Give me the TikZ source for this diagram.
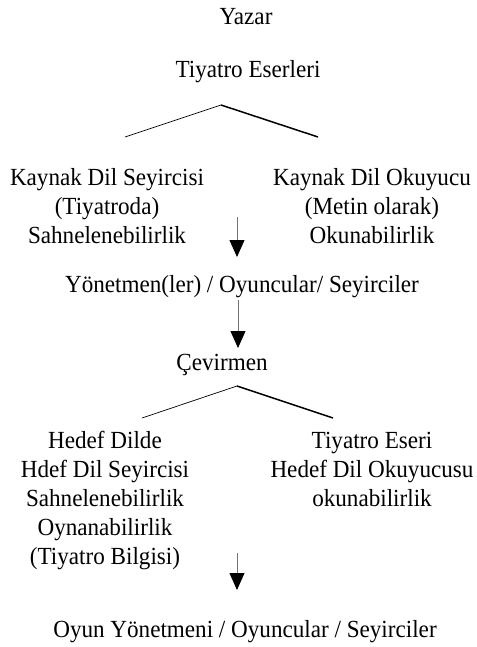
\documentclass[tikz,border=0pt]{standalone}
\usepackage{fontspec}
\setmainfont{Liberation Serif}[FakeStretch=0.94]
\usetikzlibrary{arrows.meta}
\begin{document}
\begin{tikzpicture}[x=1pt,y=-1pt,
  lbl/.style={inner sep=0pt, anchor=base, font=\fontsize{24.6}{29}\selectfont, align=center},
  arr/.style={draw=black!55, line width=0.8pt, -{Triangle[width=15pt,length=17pt,color=black]}},
  thinln/.style={line width=0.7pt},
  thickln/.style={line width=1.5pt}]
\useasboundingbox (0,0) rectangle (476,647);
\node[lbl] (yazar) at (246,25) {Yazar};
\node[lbl] (eser) at (248,78) {Tiyatro Eserleri};
\coordinate (c1l) at (125,137);
\coordinate (c1t) at (221,105);
\coordinate (c1r) at (318,137);
\draw[thinln] (c1l) -- (c1t);
\draw[thickln] (c1t) -- (c1r);
\node[lbl] (kds) at (107,243) {Kaynak Dil Seyircisi\\(Tiyatroda)\\Sahnelenebilirlik};
\node[lbl] (kdo) at (372,243) {Kaynak Dil Okuyucu\\(Metin olarak)\\Okunabilirlik};
\coordinate (a1s) at (237,217);
\coordinate (a1e) at (237,257);
\draw[arr] (a1s) -- (a1e);
\node[lbl] (yon) at (242,292) {Yönetmen(ler) / Oyuncular/ Seyirciler};
\coordinate (a2s) at (238,300);
\coordinate (a2e) at (238,348);
\draw[arr] (a2s) -- (a2e);
\node[lbl] (cev) at (222,370) {Çevirmen};
\coordinate (c2l) at (142,418);
\coordinate (c2t) at (237,386);
\coordinate (c2r) at (333,418);
\draw[thinln] (c2l) -- (c2t);
\draw[thickln] (c2t) -- (c2r);
\node[lbl] (hd) at (105,564) {Hedef Dilde\\Hdef Dil Seyircisi\\Sahnelenebilirlik\\Oynanabilirlik\\(Tiyatro Bilgisi)};
\node[lbl] (te) at (372,506) {Tiyatro Eseri\\Hedef Dil Okuyucusu\\okunabilirlik};
\coordinate (a3s) at (237,553);
\coordinate (a3e) at (237,590);
\draw[arr] (a3s) -- (a3e);
\node[lbl] (oyun) at (245,637) {Oyun Yönetmeni / Oyuncular / Seyirciler};
\end{tikzpicture}
\end{document}
